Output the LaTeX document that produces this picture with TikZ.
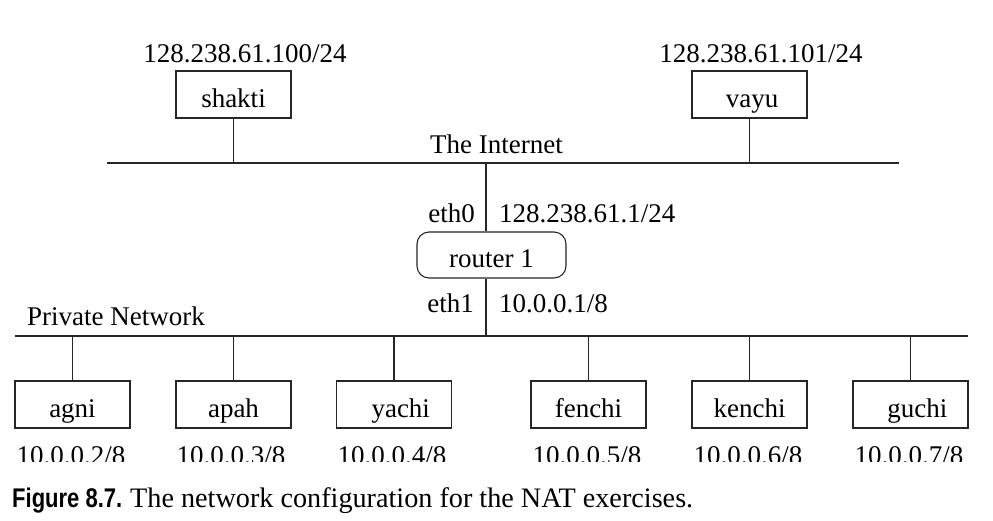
\documentclass[tikz,border=0pt]{standalone}
\usepackage{fontspec}
\usepackage{graphicx}
\setmainfont{Liberation Serif}
\setsansfont{Liberation Sans}
\begin{document}
\begin{tikzpicture}[x=1pt,y=-1pt,
  font=\fontsize{27}{32}\selectfont,
  wire/.style={line width=1.1pt,draw=black!85},
  hostbox/.style={draw=black!85,line width=1.1pt,minimum width=115pt,minimum height=47pt,inner sep=0pt,text height=25pt,text depth=0pt},
  routerbox/.style={draw=black!85,line width=1.1pt,rounded corners=12pt,minimum width=149pt,minimum height=46pt,inner sep=0pt,text height=25pt,text depth=0pt},
  lbl/.style={inner sep=0pt,anchor=base}]
\useasboundingbox[fill=white] (0,0) rectangle (993,520);

% buses
\coordinate (iL) at (107,163);
\coordinate (iR) at (899,163);
\coordinate (pL) at (15,336);
\coordinate (pR) at (968,336);
\draw[wire] (iL) -- (iR);
\draw[wire] (pL) -- (pR);

% internet hosts
\node[hostbox] (shakti) at (233.5,94.5) {shakti};
\node[hostbox] (vayu) at (749.5,94.5) {\hspace*{0.2em}vayu};
\node[lbl] (shaktiip) at (245,62) {128.238.61.100/24};
\node[lbl] (vayuip) at (761,62) {128.238.61.101/24};
\draw[wire] (shakti.south) -- (shakti.south |- iL);
\draw[wire] (vayu.south) -- (vayu.south |- iL);
\node[lbl] (inet) at (496.5,153) {The Internet};

% router
\node[routerbox] (router) at (491.5,255) {router 1};
\coordinate (rtop) at (486,163);
\coordinate (rbot) at (486,336);
\draw[wire] (rtop) -- (rtop |- router.north);
\draw[wire] (rtop |- router.south) -- (rbot);
\node[lbl,anchor=base east] (eth0) at (475,222) {eth0};
\node[lbl,anchor=base west] (eth0ip) at (499,222) {128.238.61.1/24};
\node[lbl,anchor=base east] (eth1) at (474,312) {eth1};
\node[lbl,anchor=base west] (eth1ip) at (499,312) {10.0.0.1/8};
\node[lbl,anchor=base west] (priv) at (27,325) {Private Network};

% private hosts
\node[hostbox] (agni) at (72.5,404.5) {agni};
\node[hostbox] (apah) at (233.5,404.5) {apah};
\node[hostbox] (yachi) at (394,404.5) {\hspace*{0.5em}yachi};
\node[hostbox] (fenchi) at (588.5,404.5) {fenchi};
\node[hostbox] (kenchi) at (749.5,404.5) {kenchi};
\node[hostbox] (guchi) at (910.5,404.5) {\hspace*{0.5em}guchi};
\foreach \h in {agni,apah,yachi,fenchi,kenchi,guchi}
  \draw[wire] (\h.north) -- (\h.north |- pL);

\node[lbl] (ip2) at (71,464) {10.0.0.2/8};
\node[lbl] (ip3) at (231,464) {10.0.0.3/8};
\node[lbl] (ip4) at (392,464) {10.0.0.4/8};
\node[lbl] (ip5) at (587,464) {10.0.0.5/8};
\node[lbl] (ip6) at (748,464) {10.0.0.6/8};
\node[lbl] (ip7) at (909,464) {10.0.0.7/8};
% the reference crops the bottom of these labels
\fill[white] (0,462) rectangle (993,469);

% caption
\node[lbl,anchor=base west] (capnum) at (12,507) {\fontsize{27}{32}\selectfont\sffamily\bfseries\scalebox{0.815}[1]{Figure 8.7.}};
\node[lbl,anchor=base west] (captext) at (130,507) {\fontsize{28.2}{32}\selectfont The network configuration for the NAT exercises.};
\end{tikzpicture}
\end{document}
